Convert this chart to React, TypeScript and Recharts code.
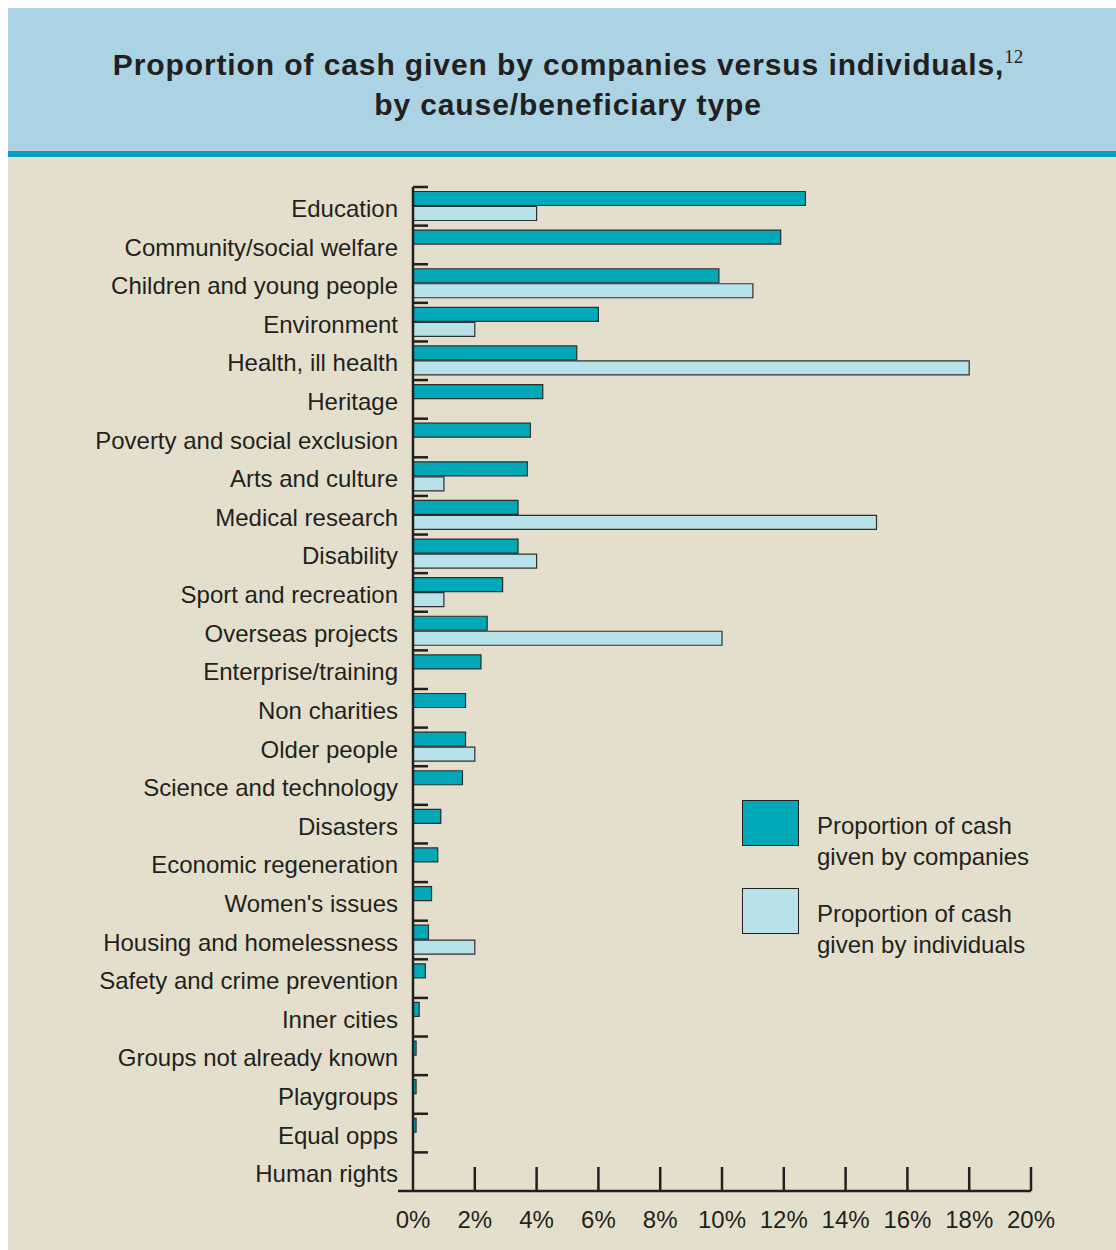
import { BarChart, Bar, XAxis, YAxis, Legend } from "recharts";

const CATEGORIES = [
  "Education",
  "Community/social welfare",
  "Children and young people",
  "Environment",
  "Health, ill health",
  "Heritage",
  "Poverty and social exclusion",
  "Arts and culture",
  "Medical research",
  "Disability",
  "Sport and recreation",
  "Overseas projects",
  "Enterprise/training",
  "Non charities",
  "Older people",
  "Science and technology",
  "Disasters",
  "Economic regeneration",
  "Women's issues",
  "Housing and homelessness",
  "Safety and crime prevention",
  "Inner cities",
  "Groups not already known",
  "Playgroups",
  "Equal opps",
  "Human rights",
];

// % of cash given by companies
const COMPANIES = [
  12.7, 11.9, 9.9, 6.0, 5.3, 4.2, 3.8, 3.7, 3.4, 3.4, 2.9, 2.4, 2.2, 1.7, 1.7,
  1.6, 0.9, 0.8, 0.6, 0.5, 0.4, 0.2, 0.1, 0.1, 0.1, 0,
];

// % of cash given by individuals
const INDIVIDUALS = [
  4.0, 0, 11.0, 2.0, 18.0, 0, 0, 1.0, 15.0, 4.0, 1.0, 10.0, 0, 0, 2.0, 0, 0, 0,
  0, 2.0, 0, 0, 0, 0, 0, 0,
];

const X_TICKS = [0, 2, 4, 6, 8, 10, 12, 14, 16, 18, 20];

const LEGEND_ITEMS = [
  { key: "companies", lines: ["Proportion of cash", "given by companies"] },
  { key: "individuals", lines: ["Proportion of cash", "given by individuals"] },
];

const COLORS: Record<string, string> = {
  companies: "#00a8b8",
  individuals: "#b8e2e9",
};

const INK = "#231f20";
const FONT = "'Liberation Sans', Arial, Helvetica, sans-serif";

const WIDTH = 1108;
const HEIGHT = 1242;
const MARGIN = { top: 179, right: 85, bottom: 19, left: 0 };
const Y_AXIS_WIDTH = 405;
const X_AXIS_HEIGHT = 40;
const BAND =
  (HEIGHT - MARGIN.top - MARGIN.bottom - X_AXIS_HEIGHT) / CATEGORIES.length;

const chartData = CATEGORIES.map((name, i) => ({
  name,
  companies: COMPANIES[i],
  individuals: INDIVIDUALS[i],
}));

function CategoryTick({ x, y, payload }: any) {
  const top = y - BAND / 2;
  return (
    <g>
      <line x1={x} x2={x + 15} y1={top} y2={top} stroke={INK} strokeWidth={2.5} />
      <text
        x={x - 15}
        y={y + 2}
        dy="0.36em"
        textAnchor="end"
        fill={INK}
        fontSize={24}
        fontFamily={FONT}
      >
        {payload.value}
      </text>
    </g>
  );
}

function PercentTick({ x, y, payload }: any) {
  return (
    <g>
      {payload.value === 0 ? (
        <line x1={x - 15} x2={x} y1={y} y2={y} stroke={INK} strokeWidth={2.5} />
      ) : (
        <line x1={x} x2={x} y1={y - 24} y2={y} stroke={INK} strokeWidth={2.5} />
      )}
      <text
        x={x}
        y={y + 37}
        textAnchor="middle"
        fill={INK}
        fontSize={24}
        fontFamily={FONT}
      >
        {payload.value}%
      </text>
    </g>
  );
}

function LegendBox() {
  return (
    <div style={{ fontFamily: FONT, color: INK }}>
      {LEGEND_ITEMS.map((item) => (
        <div key={item.key} style={{ display: "flex", height: 88 }}>
          <div
            style={{
              width: 55,
              height: 44,
              background: COLORS[item.key],
              border: `1.5px solid ${INK}`,
              flexShrink: 0,
            }}
          />
          <div
            style={{
              marginLeft: 18,
              paddingTop: 10,
              fontSize: 24,
              lineHeight: "31px",
              whiteSpace: "nowrap",
            }}
          >
            {item.lines.map((l) => (
              <div key={l}>{l}</div>
            ))}
          </div>
        </div>
      ))}
    </div>
  );
}

export default function App() {
  return (
    <div
      style={{
        position: "absolute",
        left: 8,
        top: 8,
        width: WIDTH,
        height: HEIGHT,
        background: "#e4dfcc",
        overflow: "hidden",
      }}
    >
      <div
        style={{
          position: "absolute",
          left: 0,
          top: 0,
          width: WIDTH,
          height: 143,
          background: "#abd3e3",
          borderBottom: "6px solid #0aa0bf",
          boxSizing: "content-box",
        }}
      >
        <div
          style={{
            paddingTop: 37,
            paddingLeft: 12,
            textAlign: "center",
            fontFamily: FONT,
            fontWeight: "bold",
            fontSize: 30,
            letterSpacing: 0.9,
            lineHeight: "40px",
            color: INK,
          }}
        >
          Proportion of cash given by companies versus individuals,
          <sup
            style={{
              fontFamily: "'Liberation Serif', 'DejaVu Serif', serif",
              fontWeight: "normal",
              fontSize: 19,
              letterSpacing: 0,
              lineHeight: 0,
              verticalAlign: 12,
            }}
          >
            12
          </sup>
          <br />
          by cause/beneficiary type
        </div>
      </div>

      <div style={{ position: "absolute", left: 0, top: 0 }}>
        <BarChart
          width={WIDTH}
          height={HEIGHT}
          data={chartData}
          layout="vertical"
          margin={MARGIN}
          barCategoryGap={4.5}
          barGap={1}
        >
          <XAxis
            type="number"
            domain={[0, 20]}
            ticks={X_TICKS}
            interval={0}
            height={X_AXIS_HEIGHT}
            tickSize={0}
            tickMargin={0}
            tickLine={false}
            axisLine={{ stroke: INK, strokeWidth: 2.5 }}
            tick={<PercentTick />}
          />
          <YAxis
            type="category"
            dataKey="name"
            width={Y_AXIS_WIDTH}
            interval={0}
            tickSize={0}
            tickMargin={0}
            tickLine={false}
            axisLine={{ stroke: INK, strokeWidth: 2.5 }}
            tick={<CategoryTick />}
          />
          <Legend
            layout="horizontal"
            verticalAlign="middle"
            align="center"
            wrapperStyle={{ position: "absolute", left: 734, top: 792, width: 360 }}
            content={() => <LegendBox />}
          />
          <Bar
            dataKey="companies"
            fill={COLORS.companies}
            stroke="#2e2e2e"
            strokeWidth={1.2}
            isAnimationActive={false}
          />
          <Bar
            dataKey="individuals"
            fill={COLORS.individuals}
            stroke="#2e2e2e"
            strokeWidth={1.2}
            isAnimationActive={false}
          />
        </BarChart>
      </div>
    </div>
  );
}
